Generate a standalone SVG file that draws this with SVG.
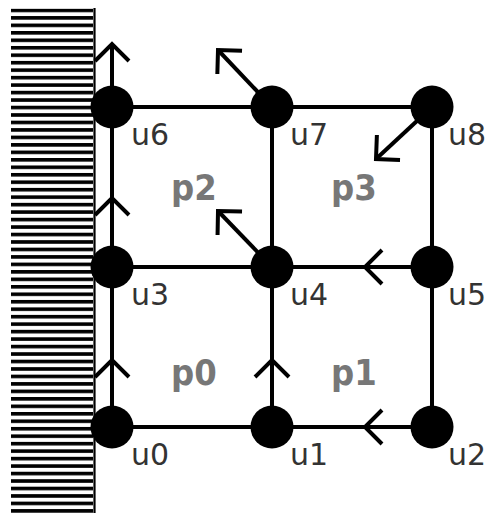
<svg xmlns="http://www.w3.org/2000/svg" width="488" height="513" viewBox="0 0 488 513">
<style>
.edge{fill:none;stroke:#000;stroke-width:4;marker-mid:url(#chev)}
.arr{fill:none;stroke:#000;stroke-width:4;marker-end:url(#chev)}
.node{fill:#000}
.ul{font-family:"DejaVu Sans",sans-serif;font-size:30px;fill:#333}
.pl{font-family:"DejaVu Sans Condensed","DejaVu Sans",sans-serif;font-stretch:condensed;font-size:36px;font-weight:bold;fill:#777}
</style>
<defs>
<marker id="chev" markerUnits="userSpaceOnUse" viewBox="-20 -20 22 40" markerWidth="22" markerHeight="40" refX="0" refY="0" orient="auto" overflow="visible">
<path d="M-17,-17 L0,0 L-17,17" fill="none" stroke="#000" stroke-width="4"/>
</marker>
<pattern id="hatch" patternUnits="userSpaceOnUse" x="0" y="8.6" width="10" height="7.47">
<rect x="0" y="0" width="10" height="3.6" fill="#000"/>
</pattern>
</defs>
<g id="wall">
<rect x="11" y="8.6" width="82" height="504.4" fill="url(#hatch)"/>
<line x1="94.5" y1="8" x2="94.5" y2="513" stroke="#000" stroke-width="2.2"/>
</g>
<g id="connectors">
<path class="edge" d="M112,427 L272,427"/>
<path class="edge" d="M432,427 L365,427 L272,427"/>
<path class="edge" d="M112,267 L272,267"/>
<path class="edge" d="M432,267 L365,267 L272,267"/>
<path class="edge" d="M112,107 L432,107"/>
<path class="edge" d="M112,427 L112,360 L112,267"/>
<path class="edge" d="M112,267 L112,198 L112,107"/>
<path class="edge" d="M272,427 L272,360 L272,267"/>
<path class="edge" d="M272,267 L272,107"/>
<path class="edge" d="M432,427 L432,107"/>
<path class="arr" d="M112,107 L112,44"/>
<path class="arr" d="M272,107 L218,50"/>
<path class="arr" d="M272,267 L218,211"/>
<path class="arr" d="M432,107 L376,159"/>
</g>
<g id="u0"><circle class="node" cx="112" cy="427" r="21.5"/><text class="ul" x="131" y="465">u0</text></g>
<g id="u1"><circle class="node" cx="272" cy="427" r="21.5"/><text class="ul" x="290" y="465">u1</text></g>
<g id="u2"><circle class="node" cx="432" cy="427" r="21.5"/><text class="ul" x="448" y="465">u2</text></g>
<g id="u3"><circle class="node" cx="112" cy="267" r="21.5"/><text class="ul" x="131" y="305">u3</text></g>
<g id="u4"><circle class="node" cx="272" cy="267" r="21.5"/><text class="ul" x="290" y="305">u4</text></g>
<g id="u5"><circle class="node" cx="432" cy="267" r="21.5"/><text class="ul" x="448" y="305">u5</text></g>
<g id="u6"><circle class="node" cx="112" cy="107" r="21.5"/><text class="ul" x="131" y="145">u6</text></g>
<g id="u7"><circle class="node" cx="272" cy="107" r="21.5"/><text class="ul" x="290" y="145">u7</text></g>
<g id="u8"><circle class="node" cx="432" cy="107" r="21.5"/><text class="ul" x="448" y="145">u8</text></g>
<g id="p0"><text class="pl" x="171" y="385">p0</text></g>
<g id="p1"><text class="pl" x="331" y="385">p1</text></g>
<g id="p2"><text class="pl" x="171" y="200">p2</text></g>
<g id="p3"><text class="pl" x="331" y="200">p3</text></g>
</svg>
